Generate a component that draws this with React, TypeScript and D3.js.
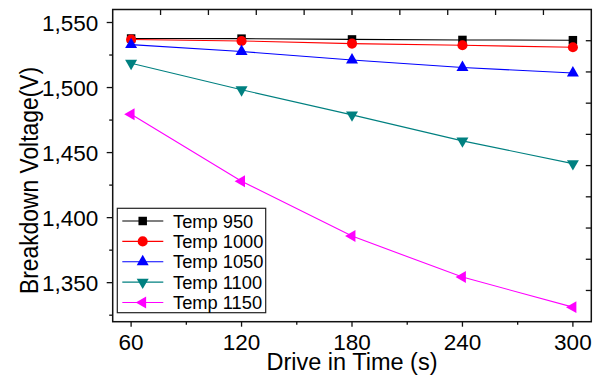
import React from "react";
import * as d3 from "d3";

const times = [60, 120, 180, 240, 300];
const temp950 = [1537.7, 1537.6, 1537, 1536.6, 1536.4];
const temp1000 = [1536.9, 1535.8, 1533.8, 1532.5, 1531];
const temp1050 = [1533, 1527.7, 1521.2, 1515.4, 1511.2];
const temp1100 = [1518.7, 1498.3, 1479, 1459, 1441.5];
const temp1150 = [1479.5, 1428, 1385.8, 1354.3, 1331.2];
const seriesNames = ["Temp 950", "Temp 1000", "Temp 1050", "Temp 1100", "Temp 1150"];
const seriesColors = ["#000000", "#ff0000", "#0000ff", "#008080", "#ff00ff"];
const yMajorTicks = [1350, 1400, 1450, 1500, 1550];
const yMinorTicks = [1325, 1375, 1425, 1475, 1525];
const xMajorTicks = [60, 120, 180, 240, 300];
const xMinorTicks = [90, 150, 210, 270];

const W = 602, H = 377;
const L = 112.7, R = 591.3, T = 9.5, B = 321.7;
const FONT = "'Liberation Sans', Arial, sans-serif";

export default function App() {
  const x = d3.scaleLinear().domain([50, 310]).range([L, R]);
  const y = d3.scaleLinear().domain([1320, 1560]).range([B, T]);
  const data = [temp950, temp1000, temp1050, temp1100, temp1150];
  const symbols = [
    { type: d3.symbolSquare, size: 72, rot: 0 },
    { type: d3.symbolCircle, size: 80, rot: 0 },
    { type: d3.symbolTriangle, size: 62, rot: 0 },
    { type: d3.symbolTriangle, size: 62, rot: 180 },
    { type: d3.symbolTriangle, size: 62, rot: -90 },
  ];
  const line = d3.line<number>().x((_, i) => x(times[i])).y((v) => y(v));
  const mirrorX = d3.scaleLinear().domain([0, 10]).range([L, R]);
  const mirrorY = d3.scaleLinear().domain([0, 10]).range([B, T]);
  const mirrorIdx = d3.range(1, 10);
  const legY = d3.scaleLinear().domain([0, 4]).range([221, 302.5]);

  return (
    <svg width={W} height={H} style={{ position: "absolute", left: 0, top: 0, background: "#fff" }}>
      <rect x={0} y={0} width={W} height={H} fill="#fff" />
      {/* series */}
      {data.map((vals, si) => (
        <g key={si}>
          <path d={line(vals) || ""} fill="none" stroke={seriesColors[si]} strokeWidth={1.1} />
          {vals.map((v, i) => (
            <path
              key={i}
              d={d3.symbol().type(symbols[si].type).size(symbols[si].size)() || ""}
              transform={`translate(${x(times[i])},${y(v)}) rotate(${symbols[si].rot})`}
              fill={seriesColors[si]}
            />
          ))}
        </g>
      ))}
      {/* frame */}
      <rect x={L} y={T} width={R - L} height={B - T} fill="none" stroke="#111" strokeWidth={1.5} />
      {/* left ticks */}
      {yMajorTicks.map((t) => (
        <g key={t}>
          <line x1={L - 6} x2={L} y1={y(t)} y2={y(t)} stroke="#111" strokeWidth={1.3} />
          <text x={L - 14.5} y={y(t)} dy="0.36em" textAnchor="end" fontFamily={FONT} fontSize={22.5} fill="#000">
            {d3.format(",")(t)}
          </text>
        </g>
      ))}
      {yMinorTicks.map((t) => (
        <line key={t} x1={L - 3.5} x2={L} y1={y(t)} y2={y(t)} stroke="#111" strokeWidth={1.3} />
      ))}
      {/* bottom ticks */}
      {xMajorTicks.map((t) => (
        <g key={t}>
          <line x1={x(t)} x2={x(t)} y1={B} y2={B + 5} stroke="#111" strokeWidth={1.3} />
          <text x={x(t)} y={350} textAnchor="middle" fontFamily={FONT} fontSize={22.5} fill="#000">
            {t}
          </text>
        </g>
      ))}
      {xMinorTicks.map((t) => (
        <line key={t} x1={x(t)} x2={x(t)} y1={B} y2={B + 3} stroke="#111" strokeWidth={1.3} />
      ))}
      {/* mirror ticks */}
      {mirrorIdx.map((i) => (
        <line key={"t" + i} x1={mirrorX(i)} x2={mirrorX(i)} y1={T} y2={T + 5.5} stroke="#111" strokeWidth={1.3} />
      ))}
      {mirrorIdx.map((i) => (
        <line key={"r" + i} x1={R - 5.5} x2={R} y1={mirrorY(i)} y2={mirrorY(i)} stroke="#111" strokeWidth={1.3} />
      ))}
      {/* axis titles */}
      <text x={(L + R) / 2} y={370} textAnchor="middle" fontFamily={FONT} fontSize={23.5} fill="#000">
        Drive in Time (s)
      </text>
      <text
        transform={`translate(38,180.5) rotate(-90)`}
        textAnchor="middle"
        fontFamily={FONT}
        fontSize={25}
        textLength={227}
        lengthAdjust="spacingAndGlyphs"
        fill="#000"
      >
        Breakdown Voltage(V)
      </text>
      {/* legend */}
      <rect x={117.3} y={208.3} width={148.4} height={104.4} fill="#fff" stroke="#222" strokeWidth={1.2} />
      {seriesNames.map((name, si) => (
        <g key={name}>
          <line x1={122.3} x2={163.3} y1={legY(si)} y2={legY(si)} stroke={seriesColors[si]} strokeWidth={1.1} />
          <path
            d={d3.symbol().type(symbols[si].type).size(symbols[si].size)() || ""}
            transform={`translate(142.7,${legY(si)}) rotate(${symbols[si].rot})`}
            fill={seriesColors[si]}
          />
          <text x={173} y={legY(si)} dy="0.36em" fontFamily={FONT} fontSize={18.3} fill="#000">
            {name}
          </text>
        </g>
      ))}
    </svg>
  );
}
